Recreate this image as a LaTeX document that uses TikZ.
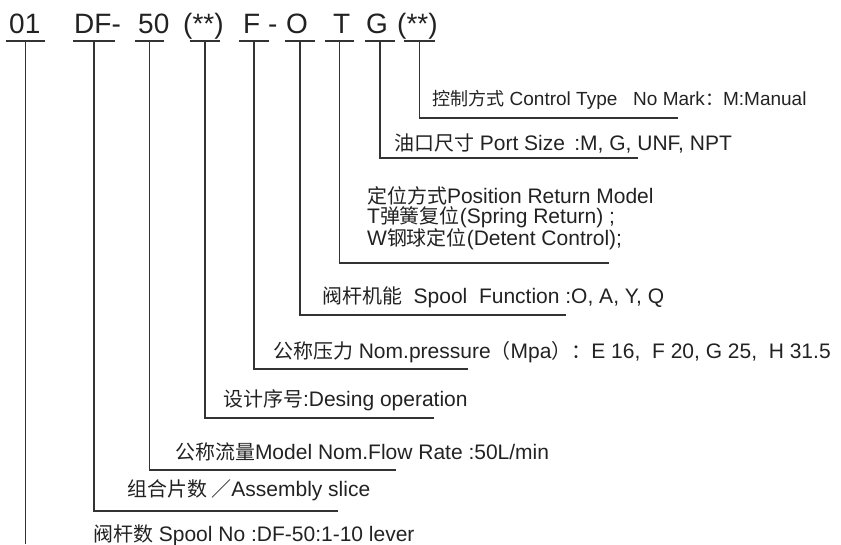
\documentclass[tikz,border=0pt]{standalone}
\usepackage{fontspec}
\setmainfont{Liberation Sans}
\newfontfamily\cjk{Noto Sans CJK SC}[Scale=0.95]
\definecolor{ink}{HTML}{222222}
\definecolor{wire}{HTML}{333333}
\tikzset{
  head/.style={anchor=base west, inner sep=0pt, font=\fontsize{28}{30}\selectfont, text=ink},
  lbl/.style={anchor=west, inner sep=0pt, font=\fontsize{21}{20}\selectfont, text=ink, align=left},
  small/.style={font=\fontsize{19}{20}\selectfont},
  wireline/.style={draw=wire, line width=1.6pt, line cap=rect},
  uline/.style={draw=wire, line width=1.4pt}
}
\begin{document}
\begin{tikzpicture}[x=1pt,y=-1pt]
\useasboundingbox (0,0) rectangle (841,544);
% header labels
\node[head] (h1) at (9,33) {01};
\node[head] (h2) at (74,33) {DF-};
\node[head] (h3) at (138,33) {50};
\node[head] (h4) at (183,33) {(**)};
\node[head] (h5) at (243,33) {F};
\node[head] (hd) at (268,33) {-};
\node[head] (h6) at (286,33) {O};
\node[head] (h7) at (333,33) {T};
\node[head] (h8) at (366,33) {G};
\node[head] (h9) at (397,33) {(**)};
% underline centres
\coordinate (u1) at (25.5,41);
\coordinate (u2) at (94,41);
\coordinate (u3) at (149.5,41);
\coordinate (u4) at (205,41);
\coordinate (u5) at (254,41);
\coordinate (u6) at (300,41);
\coordinate (u7) at (339.5,41);
\coordinate (u8) at (380,41);
\coordinate (u9) at (419.5,41);
\foreach \u/\w in {u1/19.5,u2/21,u3/14.5,u4/15,u5/15,u6/15,u7/14.5,u8/15,u9/15.5}
  \draw[uline] ([xshift=-\w pt]\u) -- ([xshift=\w pt]\u);
% labels
\node[lbl, small] (ct) at (432,100) {{\cjk 控制方式} Control Type \ \ No Mark{\cjk ：}M:Manual};
\node[lbl] (ps) at (394,143) {{\cjk 油口尺寸} Port Size \,:M, G, UNF, NPT};
\node[lbl, anchor=north west] (pr) at (367,186) {{\cjk 定位方式}Position Return Model\\T{\cjk 弹簧复位}(Spring Return) ;\\W{\cjk 钢球定位}(Detent Control);};
\node[lbl] (sf) at (322,297) {{\cjk 阀杆机能} \ Spool \ Function :O, A, Y, Q};
\node[lbl] (np) at (273,352) {{\cjk 公称压力} Nom.pressure{\cjk （}Mpa{\cjk ）：}E 16, \ F 20, G 25, \ H 31.5};
\node[lbl] (do) at (223,400) {{\cjk 设计序号}:Desing operation};
\node[lbl] (fr) at (175,452) {{\cjk 公称流量}Model Nom.Flow Rate :50L/min};
\node[lbl] (as) at (127,490) {{\cjk 组合片数 ／}Assembly slice};
\node[lbl] (sn) at (93,535) {{\cjk 阀杆数} Spool No :DF-50:1-10 lever};
% corners and free ends
\coordinate (c9) at (419.5,118); \coordinate (e9) at (677,118);
\coordinate (c8) at (380,158);   \coordinate (e8) at (637,158);
\coordinate (c7) at (339.5,263); \coordinate (e7) at (608,263);
\coordinate (c6) at (300,315);   \coordinate (e6) at (565,315);
\coordinate (c5) at (254,369);   \coordinate (e5) at (467,369);
\coordinate (c4) at (205,418);   \coordinate (e4) at (433,418);
\coordinate (c3) at (149.5,470); \coordinate (e3) at (395,470);
\coordinate (c2) at (94,511);    \coordinate (e2) at (337,511);
\coordinate (e1) at (25.5,544);
% connectors
\foreach \i in {2,...,9}
  \draw[wireline] (u\i) -- (c\i) -- (e\i);
\draw[wireline, line cap=butt] (u1) -- (e1);
\end{tikzpicture}
\end{document}
